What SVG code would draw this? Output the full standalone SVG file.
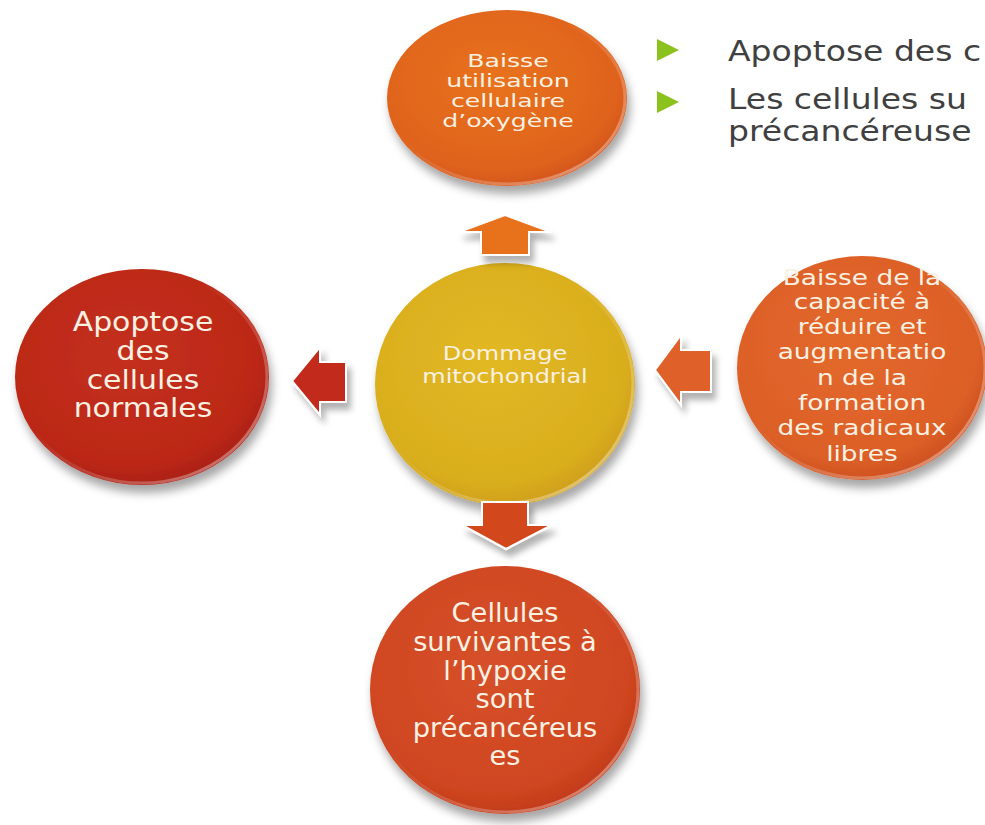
<svg xmlns="http://www.w3.org/2000/svg" width="985" height="825" viewBox="0 0 985 825">
<defs>
<style>
.lbl{font-family:"DejaVu Sans","Liberation Sans",sans-serif;fill:#FBF1E2;text-anchor:middle}
.bul{font-family:"DejaVu Sans","Liberation Sans",sans-serif;fill:#404040;font-size:28px}
.rim{fill:none;stroke-width:3}
.arr{stroke:#FFFFFF;stroke-width:2;stroke-linejoin:miter}
</style>
<filter id="sh" x="-20%" y="-20%" width="150%" height="150%">
<feGaussianBlur in="SourceAlpha" stdDeviation="5"/>
<feOffset dx="3" dy="8" result="b"/>
<feFlood flood-color="#000" flood-opacity="0.35"/>
<feComposite in2="b" operator="in"/>
<feMerge><feMergeNode/><feMergeNode in="SourceGraphic"/></feMerge>
</filter>
<filter id="ash" x="-30%" y="-30%" width="170%" height="180%">
<feGaussianBlur in="SourceAlpha" stdDeviation="3"/>
<feOffset dx="4" dy="7" result="b"/>
<feFlood flood-color="#000" flood-opacity="0.3"/>
<feComposite in2="b" operator="in"/>
<feMerge><feMergeNode/><feMergeNode in="SourceGraphic"/></feMerge>
</filter>
<radialGradient id="gTop" cx="45%" cy="40%" r="60%"><stop offset="0" stop-color="#E8721F"/><stop offset="0.85" stop-color="#DF631C"/><stop offset="1" stop-color="#D4561A"/></radialGradient>
<radialGradient id="gCen" cx="45%" cy="40%" r="60%"><stop offset="0" stop-color="#E2B823"/><stop offset="0.85" stop-color="#D9AE1E"/><stop offset="1" stop-color="#D0A01A"/></radialGradient>
<radialGradient id="gLeft" cx="45%" cy="40%" r="60%"><stop offset="0" stop-color="#C4301C"/><stop offset="0.85" stop-color="#BB2818"/><stop offset="1" stop-color="#AC2016"/></radialGradient>
<radialGradient id="gRight" cx="45%" cy="40%" r="60%"><stop offset="0" stop-color="#E3692C"/><stop offset="0.85" stop-color="#DC5F27"/><stop offset="1" stop-color="#CF5220"/></radialGradient>
<radialGradient id="gBot" cx="45%" cy="40%" r="60%"><stop offset="0" stop-color="#D6512A"/><stop offset="0.85" stop-color="#CF4620"/><stop offset="1" stop-color="#C23C1A"/></radialGradient>
<linearGradient id="rimG" x1="0" y1="0" x2="1" y2="1"><stop offset="0.4" stop-color="#FFFFFF" stop-opacity="0"/><stop offset="1" stop-color="#FFFFFF" stop-opacity="0.45"/></linearGradient>
</defs>
<rect width="985" height="825" fill="#FFFFFF"/>

<g id="bullets">
<polygon points="657,39 679,50 657,61" fill="#8CC21E"/>
<polygon points="657,91 679,102 657,113" fill="#8CC21E"/>
<text class="bul" transform="translate(728,0) scale(1.18,1)" x="0" y="61">Apoptose des c</text>
<text class="bul" transform="translate(728,0) scale(1.18,1)" x="0" y="109">Les cellules su</text>
<text class="bul" transform="translate(728,0) scale(1.18,1)" x="0" y="141">précancéreuse</text>
</g>

<g id="node-top">
<ellipse cx="507" cy="98" rx="120" ry="88" fill="url(#gTop)" filter="url(#sh)"/>
<ellipse class="rim" cx="507" cy="98" rx="118" ry="86" stroke="url(#rimG)"/>
<g class="lbl" font-size="18">
<text transform="translate(508,0) scale(1.4,1)" x="0" y="67">Baisse</text>
<text transform="translate(508,0) scale(1.4,1)" x="0" y="87">utilisation</text>
<text transform="translate(508,0) scale(1.4,1)" x="0" y="107">cellulaire</text>
<text transform="translate(508,0) scale(1.4,1)" x="0" y="127">d’oxygène</text>
</g>
</g>

<g id="node-center">
<ellipse cx="505" cy="384" rx="130" ry="121" fill="url(#gCen)" filter="url(#sh)"/>
<ellipse class="rim" cx="505" cy="384" rx="128" ry="119" stroke="url(#rimG)"/>
<g class="lbl" font-size="20">
<text transform="translate(505,0) scale(1.2,1)" x="0" y="360">Dommage</text>
<text transform="translate(505,0) scale(1.2,1)" x="0" y="383">mitochondrial</text>
</g>
</g>

<g id="node-left">
<ellipse cx="142" cy="377" rx="127" ry="108" fill="url(#gLeft)" filter="url(#sh)"/>
<ellipse class="rim" cx="142" cy="377" rx="125" ry="106" stroke="url(#rimG)"/>
<g class="lbl" font-size="26">
<text transform="translate(143,0) scale(1.15,1)" x="0" y="331">Apoptose</text>
<text transform="translate(143,0) scale(1.15,1)" x="0" y="360">des</text>
<text transform="translate(143,0) scale(1.15,1)" x="0" y="389">cellules</text>
<text transform="translate(143,0) scale(1.15,1)" x="0" y="417">normales</text>
</g>
</g>

<g id="node-right">
<ellipse cx="862" cy="368" rx="125" ry="112" fill="url(#gRight)" filter="url(#sh)"/>
<ellipse class="rim" cx="862" cy="368" rx="123" ry="110" stroke="url(#rimG)"/>
<g class="lbl" font-size="22">
<text transform="translate(862,0) scale(1.2,1)" x="0" y="285">Baisse de la</text>
<text transform="translate(862,0) scale(1.2,1)" x="0" y="309">capacité à</text>
<text transform="translate(862,0) scale(1.2,1)" x="0" y="334">réduire  et</text>
<text transform="translate(862,0) scale(1.2,1)" x="0" y="359">augmentatio</text>
<text transform="translate(862,0) scale(1.2,1)" x="0" y="385">n de la</text>
<text transform="translate(862,0) scale(1.2,1)" x="0" y="410">formation</text>
<text transform="translate(862,0) scale(1.2,1)" x="0" y="435">des radicaux</text>
<text transform="translate(862,0) scale(1.2,1)" x="0" y="461">libres</text>
</g>
</g>

<g id="node-bottom">
<ellipse cx="505" cy="690" rx="135" ry="124" fill="url(#gBot)" filter="url(#sh)"/>
<ellipse class="rim" cx="505" cy="690" rx="133" ry="122" stroke="url(#rimG)"/>
<g class="lbl" font-size="26">
<text transform="translate(505,0) scale(1.05,1)" x="0" y="622">Cellules</text>
<text transform="translate(505,0) scale(1.05,1)" x="0" y="651">survivantes à</text>
<text transform="translate(505,0) scale(1.05,1)" x="0" y="680">l’hypoxie</text>
<text transform="translate(505,0) scale(1.05,1)" x="0" y="708">sont</text>
<text transform="translate(505,0) scale(1.05,1)" x="0" y="737">précancéreus</text>
<text transform="translate(505,0) scale(1.05,1)" x="0" y="765">es</text>
</g>
</g>

<g id="connectors">
<path class="arr" fill="#E8711F" filter="url(#ash)" d="M459,232 L505,215 L551,232 L529,232 L529,255 L481,255 L481,232 Z"/>
<path class="arr" fill="#C22A1A" filter="url(#ash)" d="M292,381 L320,347 L320,362 L346,362 L346,402 L320,402 L320,415 Z"/>
<path class="arr" fill="#E0612A" filter="url(#ash)" d="M655,370 L681,335 L681,350 L711,350 L711,392 L681,392 L681,405 Z"/>
<path class="arr" fill="#D2471E" filter="url(#ash)" d="M482,502 L528,502 L528,525 L552,525 L506,549 L462,525 L482,525 Z"/>
</g>
</svg>
